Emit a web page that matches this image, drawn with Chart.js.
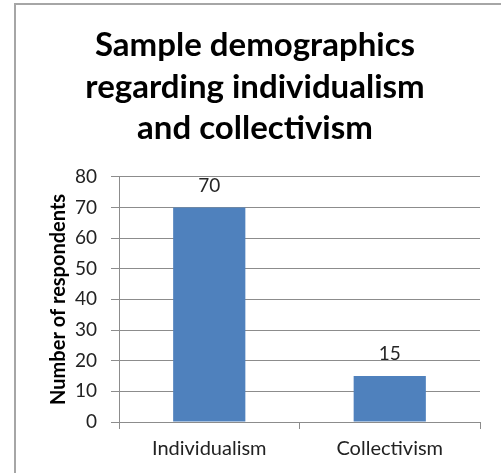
<!DOCTYPE html>
<html>
<head>
<meta charset="utf-8">
<script src="https://cdn.jsdelivr.net/npm/chart.js@4.4.1/dist/chart.umd.min.js"></script>
<style>
  html, body { margin: 0; padding: 0; background: #fff; }
  #wrap { position: absolute; left: 0; top: 0; width: 501px; height: 473px; }
  #frame {
    position: absolute; left: 14px; top: 3px; width: 487px; height: 470px;
    border-top: 2px solid #a6a6a6; border-left: 2px solid #a6a6a6;
    pointer-events: none;
  }
</style>
</head>
<body>
<div id="wrap"><canvas id="chart"></canvas></div>
<div id="frame"></div>
<script>
// chart data
var categories = ['Individualism', 'Collectivism'];
var respondents = [70, 15];
var titleLines = ['Sample demographics', 'regarding individualism', 'and collectivism'];
var yAxisTitle = 'Number of respondents';

var FONT = 'Lato, "Open Sans", sans-serif';
var GRID = '#8c8c8c';

// value labels above the bars
var barLabels = {
  id: 'barLabels',
  afterDatasetsDraw: function (chart) {
    var ctx = chart.ctx;
    var meta = chart.getDatasetMeta(0);
    ctx.save();
    ctx.font = '19px ' + FONT;
    ctx.fillStyle = '#262626';
    ctx.textAlign = 'center';
    ctx.textBaseline = 'middle';
    meta.data.forEach(function (bar, i) {
      ctx.fillText(String(respondents[i]), bar.x, bar.y - 22);
    });
    ctx.restore();
  }
};

new Chart(document.getElementById('chart'), {
  type: 'bar',
  data: {
    labels: categories,
    datasets: [{
      data: respondents,
      backgroundColor: '#4f81bd',
      borderWidth: 0,
      categoryPercentage: 0.4,
      barPercentage: 1
    }]
  },
  options: {
    responsive: true,
    maintainAspectRatio: false,
    animation: false,
    layout: { padding: { left: 30, right: 21, top: 0, bottom: 0 } },
    plugins: {
      legend: { display: false },
      tooltip: { enabled: false },
      title: {
        display: true,
        text: titleLines,
        color: '#000',
        font: { family: FONT, size: 33, weight: 'bold', lineHeight: 1.27 },
        padding: { top: 24, bottom: 27 }
      }
    },
    scales: {
      x: {
        grid: { drawOnChartArea: false, drawTicks: true, tickLength: 7, color: GRID },
        border: { color: GRID, width: 1 },
        ticks: { color: '#222', font: { family: FONT, size: 20 }, padding: 8 },
        afterFit: function (scale) { scale.height = 51; }
      },
      y: {
        min: 0,
        max: 80,
        ticks: { stepSize: 10, color: '#222', font: { family: FONT, size: 19 }, padding: 14 },
        grid: { color: GRID, tickLength: 8 },
        border: { color: GRID, width: 1 },
        title: {
          display: true,
          text: yAxisTitle,
          color: '#000',
          font: { family: FONT, size: 20, weight: 'bold' },
          padding: { top: 17, bottom: 0 }
        },
        afterFit: function (scale) { scale.width = 89; }
      }
    }
  },
  plugins: [barLabels]
});
</script>
</body>
</html>
